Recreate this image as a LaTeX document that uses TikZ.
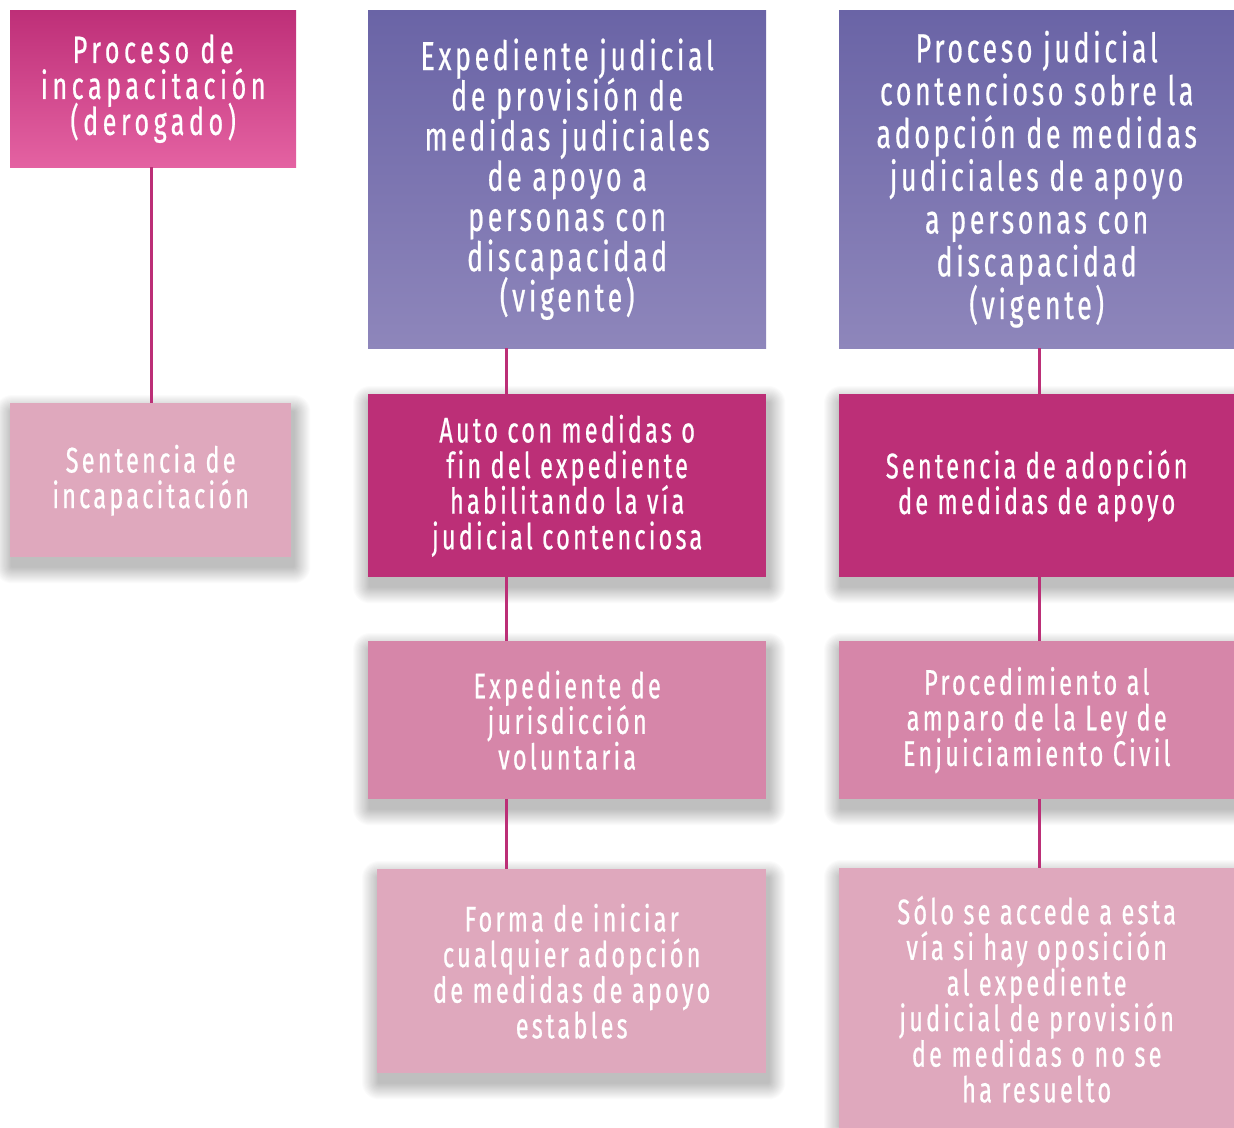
\documentclass[tikz,border=0pt]{standalone}
\usepackage{fontspec}
\setmainfont{Fira Sans}[FakeStretch=0.66, LetterSpace=9, FakeBold=0.6, Ligatures=NoCommon]
\usetikzlibrary{calc}
\pgfdeclarelayer{paper}
\pgfdeclarelayer{shadowlayer}
\pgfsetlayers{paper,shadowlayer,main}
\definecolor{purpT}{HTML}{6A64A6}
\definecolor{purpB}{HTML}{8E86BB}
\definecolor{magT}{HTML}{BE2F78}
\definecolor{magB}{HTML}{E462A2}
\definecolor{mag}{HTML}{BC2F77}
\definecolor{midpink}{HTML}{D686A9}
\definecolor{lightpink}{HTML}{DFA8BD}
\definecolor{lineC}{HTML}{BC2F77}
\tikzset{
  box/.style={rectangle, anchor=north west, inner sep=0pt, align=center, text=white},
  big/.style={font=\fontsize{38}{36}\selectfont\addfontfeatures{LetterSpace=12}},
  bigB/.style={font=\fontsize{40.5}{40.2}\selectfont},
  bigC/.style={font=\fontsize{40.5}{42.8}\selectfont},
  med/.style={font=\fontsize{35.6}{35.6}\selectfont},
  conn/.style={draw=lineC, line width=3pt},
  shadowpiece/.style={fill=black, fill opacity=0.016}
}
\newcommand\boxshadow[1]{%
  \begin{pgfonlayer}{shadowlayer}
  \foreach \k in {0,...,15}{%
    \pgfmathsetmacro\s{17-1.05*\k}%
    \fill[shadowpiece, rounded corners=\s pt]
      ($(#1.south west)+(2-\s,-9-\s)$) rectangle ($(#1.north east)+(2+\s,-9+\s)$);
  }
  \end{pgfonlayer}}
\begin{document}
\lineskiplimit=-100pt
\begin{tikzpicture}[x=1pt,y=1pt]
\begin{pgfonlayer}{paper}
\fill[white] (0,0) rectangle (1234,-1127);
\end{pgfonlayer}
\useasboundingbox (0,0) rectangle (1234,-1127);
\coordinate (ax) at (151,0);
\coordinate (bx) at (506,0);
\coordinate (cx) at (1039,0);
% column A
\node[box, big, top color=magT, bottom color=magB, minimum width=286pt, minimum height=157pt] (a1) at (10,-10)
  {Proceso de\\incapacitación\\(derogado)};
\node[box, med, fill=lightpink, minimum width=281pt, minimum height=154pt] (a2) at (10,-403)
  {Sentencia de\\incapacitación};
% column B
\node[box, bigB, top color=purpT, bottom color=purpB, minimum width=398pt, minimum height=338pt] (b1) at (368,-10)
  {Expediente judicial\\de provisión de\\medidas judiciales\\de apoyo a\\personas con\\discapacidad\\(vigente)};
\node[box, med, fill=mag, minimum width=398pt, minimum height=183pt] (b2) at (368,-394)
  {Auto con medidas o\\fin del expediente\\habilitando la vía\\judicial contenciosa};
\node[box, med, fill=midpink, minimum width=398pt, minimum height=158pt] (b3) at (368,-641)
  {Expediente de\\jurisdicción\\voluntaria};
\node[box, med, fill=lightpink, minimum width=389pt, minimum height=204pt] (b4) at (377,-869)
  {Forma de iniciar\\cualquier adopción\\de medidas de apoyo\\estables};
% column C
\node[box, bigC, top color=purpT, bottom color=purpB, minimum width=395pt, minimum height=338pt] (c1) at (839,-10)
  {Proceso judicial\\contencioso sobre la\\adopción de medidas\\judiciales de apoyo\\a personas con\\discapacidad\\(vigente)};
\node[box, med, fill=mag, minimum width=395pt, minimum height=183pt] (c2) at (839,-394)
  {Sentencia de adopción\\de medidas de apoyo};
\node[box, med, fill=midpink, minimum width=395pt, minimum height=158pt] (c3) at (839,-641)
  {Procedimiento al\\amparo de la Ley de\\Enjuiciamiento Civil};
\node[box, med, fill=lightpink, minimum width=395pt, minimum height=262pt] (c4) at (839,-868)
  {Sólo se accede a esta\\vía si hay oposición\\al expediente\\judicial de provisión\\de medidas o no se\\ha resuelto};
% shadows
\boxshadow{a2}
\boxshadow{b2}
\boxshadow{b3}
\boxshadow{b4}
\boxshadow{c2}
\boxshadow{c3}
\boxshadow{c4}
% connectors
\draw[conn] (a1.south -| ax) -- (a2.north -| ax);
\draw[conn] (b1.south -| bx) -- (b2.north -| bx);
\draw[conn] (b2.south -| bx) -- (b3.north -| bx);
\draw[conn] (b3.south -| bx) -- (b4.north -| bx);
\draw[conn] (c1.south -| cx) -- (c2.north -| cx);
\draw[conn] (c2.south -| cx) -- (c3.north -| cx);
\draw[conn] (c3.south -| cx) -- (c4.north -| cx);
\end{tikzpicture}
\end{document}
